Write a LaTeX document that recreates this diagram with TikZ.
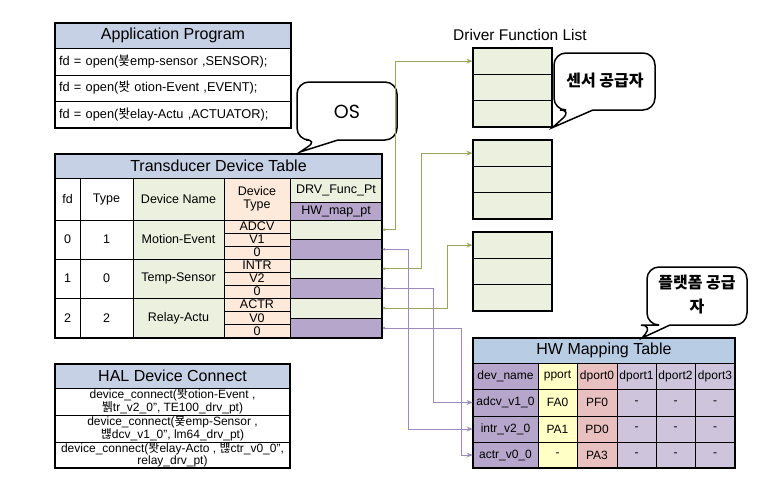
\documentclass[tikz,border=0pt]{standalone}
\usepackage{fontspec}
\setmainfont{Liberation Sans}
\newfontfamily\kofont{Noto Sans CJK KR}
\newfontfamily\geofont{Poppins}
\usetikzlibrary{arrows.meta}
\definecolor{hdrblue}{HTML}{C6D1E5}
\definecolor{hwblue}{HTML}{B8CCE4}
\definecolor{palegreen}{HTML}{EBF1DE}
\definecolor{peach}{HTML}{FDEADA}
\definecolor{mauve}{HTML}{B6A6CB}
\definecolor{lilac}{HTML}{CEC4DC}
\definecolor{paleyellow}{HTML}{FFFFC6}
\definecolor{rose}{HTML}{E8C0BF}
\definecolor{drvline}{HTML}{98A65E}
\definecolor{hwline}{HTML}{9A8BBA}
\newcommand*{\ko}[1]{{\kofont #1}}
% one table cell: [options]{name}{x1}{y1}{x2}{y2}{fill}{text}
\newcommand*{\tcell}[8][]{\node[cell,fill=#7,minimum width={((#5)-(#3))*1pt},
  minimum height={((#6)-(#4))*1pt},#1] (#2) at ({((#3)+(#5))/2},{((#4)+(#6))/2}) {#8};}

\begin{document}
\begin{tikzpicture}[x=1pt,y=-1pt]
\tikzstyle cell=[draw,rectangle,inner sep=1pt,align=center,line width=.9pt,
  font=\fontsize{12.5}{13}\selectfont]
\tikzstyle hwcell=[font=\fontsize{12}{13}\selectfont]
\tikzstyle title=[font=\fontsize{16}{18}\selectfont]
\tikzstyle tiny=[inner sep=0pt]
\tikzstyle listcell=[line width=1.1pt]
\tikzstyle outline=[line width=2pt]
\tikzstyle callout=[draw,line width=1.5pt,fill=white,rounded corners=12pt]
\tikzstyle note=[font=\kofont\bfseries\fontsize{16}{24}\selectfont,align=center]
\tikzstyle drvlink=[drvline,line width=.9pt,{Stealth[length=3pt,width=3pt]}-{Stealth[length=6pt,width=5pt]}]
\tikzstyle hwlink=[hwline,line width=.9pt,{Stealth[length=3pt,width=3pt]}-{Stealth[length=6pt,width=5pt]}]
\useasboundingbox (0,0) rectangle (777,479);

% Application Program
\tcell[title]{ap}{55}{23}{291}{48}{hdrblue}{Application Program}
\tcell[text width=228pt,align=left,font=\fontsize{12.8}{14}\selectfont]{apA}{55}{48}{291}{75}{white}{fd = open(\ko{뵻}emp-sensor ,SENSOR);}
\tcell[text width=228pt,align=left,font=\fontsize{12.8}{14}\selectfont]{apB}{55}{75}{291}{101}{white}{fd = open(\ko{봣} otion-Event ,EVENT);}
\tcell[text width=228pt,align=left,font=\fontsize{12.8}{14}\selectfont]{apC}{55}{101}{291}{128}{white}{fd = open(\ko{봣}elay-Actu ,ACTUATOR);}
\draw[outline] (ap.north west) rectangle (apC.south east);

% OS callout
\coordinate (osTip) at (300,152);
\draw[callout] (338,140) -- (397,140) -- (397,82) -- (297,82) -- (297,140) -- (318,140)
  [sharp corners] -- (osTip) -- cycle;
\node[font=\geofont\fontsize{19}{20}\selectfont] (os) at (347,112) {OS};

% Transducer Device Table
\tcell[title]{td}{55}{154}{382}{178}{hdrblue}{Transducer Device Table}
\tcell{tdFd}{55}{178}{80}{220}{white}{fd}
\tcell{tdType}{80}{178}{133}{220}{white}{Type}
\tcell{tdName}{133}{178}{224}{220}{palegreen}{Device Name}
\tcell{tdDtype}{224}{178}{290}{220}{peach}{Device\\Type}
\tcell{tdDrv}{290}{178}{382}{202}{palegreen}{DRV\_Func\_Pt}
\tcell{tdHw}{290}{202}{382}{220}{mauve}{HW\_map\_pt}

\tcell{fdA}{55}{220}{80}{259}{white}{0}
\tcell{typeA}{80}{220}{133}{259}{white}{1}
\tcell{nameA}{133}{220}{224}{259}{palegreen}{Motion-Event}
\tcell[tiny]{dtA1}{224}{220}{290}{233}{peach}{ADCV}
\tcell[tiny]{dtA2}{224}{233}{290}{246}{peach}{V1}
\tcell[tiny]{dtA3}{224}{246}{290}{259}{peach}{0}
\tcell{drvA}{290}{220}{382}{239.5}{palegreen}{}
\tcell{hwA}{290}{239.5}{382}{259}{mauve}{}

\tcell{fdB}{55}{259}{80}{298}{white}{1}
\tcell{typeB}{80}{259}{133}{298}{white}{0}
\tcell{nameB}{133}{259}{224}{298}{palegreen}{Temp-Sensor}
\tcell[tiny]{dtB1}{224}{259}{290}{272}{peach}{INTR}
\tcell[tiny]{dtB2}{224}{272}{290}{285}{peach}{V2}
\tcell[tiny]{dtB3}{224}{285}{290}{298}{peach}{0}
\tcell{drvB}{290}{259}{382}{278.5}{palegreen}{}
\tcell{hwB}{290}{278.5}{382}{298}{mauve}{}

\tcell{fdC}{55}{298}{80}{338}{white}{2}
\tcell{typeC}{80}{298}{133}{338}{white}{2}
\tcell{nameC}{133}{298}{224}{338}{palegreen}{Relay-Actu}
\tcell[tiny]{dtC1}{224}{298}{290}{311}{peach}{ACTR}
\tcell[tiny]{dtC2}{224}{311}{290}{324.5}{peach}{V0}
\tcell[tiny]{dtC3}{224}{324.5}{290}{338}{peach}{0}
\tcell{drvC}{290}{298}{382}{318}{palegreen}{}
\tcell{hwC}{290}{318}{382}{338}{mauve}{}
\draw[outline] (td.north west) rectangle (hwC.south east);

% HAL Device Connect
\tcell[title]{hal}{55}{364}{290}{388}{hdrblue}{HAL Device Connect}
\tcell[inner sep=.5pt,font=\fontsize{12}{12.5}\selectfont]{halA}{55}{388}{290}{415}{white}{device\_connect(\ko{봣}otion-Event ,\\\ko{뷁}tr\_v2\_0", TE100\_drv\_pt)}
\tcell[inner sep=.5pt,font=\fontsize{12}{12.5}\selectfont]{halB}{55}{415}{290}{442}{white}{device\_connect(\ko{뵻}emp-Sensor ,\\\ko{뱮}dcv\_v1\_0", lm64\_drv\_pt)}
\tcell[inner sep=.5pt,font=\fontsize{12}{12.5}\selectfont]{halC}{55}{442}{290}{468}{white}{device\_connect(\ko{봣}elay-Acto , \ko{뱮}ctr\_v0\_0",\\relay\_drv\_pt)}
\draw[outline] (hal.north west) rectangle (halC.south east);

% Driver Function List
\node[font=\fontsize{15.5}{17}\selectfont] (dflTitle) at (520,35) {Driver Function List};
\tcell[listcell]{dlA1}{473}{48}{552}{74.3}{palegreen}{}
\tcell[listcell]{dlA2}{473}{74.3}{552}{100.7}{palegreen}{}
\tcell[listcell]{dlA3}{473}{100.7}{552}{127}{palegreen}{}
\tcell[listcell]{dlB1}{473}{140}{552}{166.3}{palegreen}{}
\tcell[listcell]{dlB2}{473}{166.3}{552}{192.7}{palegreen}{}
\tcell[listcell]{dlB3}{473}{192.7}{552}{219}{palegreen}{}
\tcell[listcell]{dlC1}{473}{232}{552}{258.3}{palegreen}{}
\tcell[listcell]{dlC2}{473}{258.3}{552}{284.7}{palegreen}{}
\tcell[listcell]{dlC3}{473}{284.7}{552}{311}{palegreen}{}

% sensor supplier callout
\draw[callout] (593,110) -- (655,110) -- (655,53) -- (554,53) -- (554,110) -- (572,110)
  [sharp corners] -- (dlA3.south east) -- cycle;
\node[note] (sensorNote) at (605,81) {센서 공급자};

% HW Mapping Table
\tcell[title]{hwm}{473}{338}{735}{363}{hwblue}{HW Mapping Table}
\tcell[hwcell]{hwDev}{473}{363}{538}{389}{mauve}{dev\_name}
\tcell[hwcell]{hwPp}{538}{363}{577}{389}{paleyellow}{pport}
\tcell[hwcell]{hwD0}{577}{363}{617}{389}{rose}{dport0}
\tcell[hwcell]{hwD1}{617}{363}{656}{389}{lilac}{dport1}
\tcell[hwcell]{hwD2}{656}{363}{695}{389}{lilac}{dport2}
\tcell[hwcell]{hwD3}{695}{363}{735}{389}{lilac}{dport3}

\tcell[hwcell]{hwDevA}{473}{389}{538}{416}{mauve}{adcv\_v1\_0}
\tcell[hwcell]{hwPpA}{538}{389}{577}{416}{paleyellow}{FA0}
\tcell[hwcell]{hwD0A}{577}{389}{617}{416}{rose}{PF0}
\tcell[hwcell]{hwD1A}{617}{389}{656}{416}{lilac}{-}
\tcell[hwcell]{hwD2A}{656}{389}{695}{416}{lilac}{-}
\tcell[hwcell]{hwD3A}{695}{389}{735}{416}{lilac}{-}

\tcell[hwcell]{hwDevB}{473}{416}{538}{442}{mauve}{intr\_v2\_0}
\tcell[hwcell]{hwPpB}{538}{416}{577}{442}{paleyellow}{PA1}
\tcell[hwcell]{hwD0B}{577}{416}{617}{442}{rose}{PD0}
\tcell[hwcell]{hwD1B}{617}{416}{656}{442}{lilac}{-}
\tcell[hwcell]{hwD2B}{656}{416}{695}{442}{lilac}{-}
\tcell[hwcell]{hwD3B}{695}{416}{735}{442}{lilac}{-}

\tcell[hwcell]{hwDevC}{473}{442}{538}{468}{mauve}{actr\_v0\_0}
\tcell[hwcell]{hwPpC}{538}{442}{577}{468}{paleyellow}{-}
\tcell[hwcell]{hwD0C}{577}{442}{617}{468}{rose}{PA3}
\tcell[hwcell]{hwD1C}{617}{442}{656}{468}{lilac}{-}
\tcell[hwcell]{hwD2C}{656}{442}{695}{468}{lilac}{-}
\tcell[hwcell]{hwD3C}{695}{442}{735}{468}{lilac}{-}
\draw[outline] (hwm.north west) rectangle (hwD3C.south east);

% platform supplier callout
\coordinate (platTip) at (642,338);
\draw[callout] (670,325) -- (747,325) -- (747,267) -- (647,267) -- (647,325) -- (653,325)
  [sharp corners] -- (platTip) -- cycle;
\node[note] (platNote) at (697,295) {플랫폼 공급\\자};

% links
\coordinate (bendA) at (395,0);
\coordinate (bendB) at (421,0);
\coordinate (bendC) at (447,0);
\coordinate (bendD) at (408,0);
\coordinate (bendE) at (433,0);
\coordinate (bendF) at (461,0);
\draw[drvlink] (drvA.east) -| (bendA |- dlA1.west) -- (dlA1.west);
\draw[drvlink] (drvB.east) -| (bendB |- dlB1.west) -- (dlB1.west);
\draw[drvlink] (drvC.east) -| (bendC |- dlC1.west) -- (dlC1.west);
\draw[hwlink] (hwA.east) -| (bendD |- hwDevB.west) -- (hwDevB.west);
\draw[hwlink] (hwB.east) -| (bendE |- hwDevA.west) -- (hwDevA.west);
\draw[hwlink] (hwC.east) -| (bendF |- hwDevC.west) -- (hwDevC.west);
\end{tikzpicture}
\end{document}
